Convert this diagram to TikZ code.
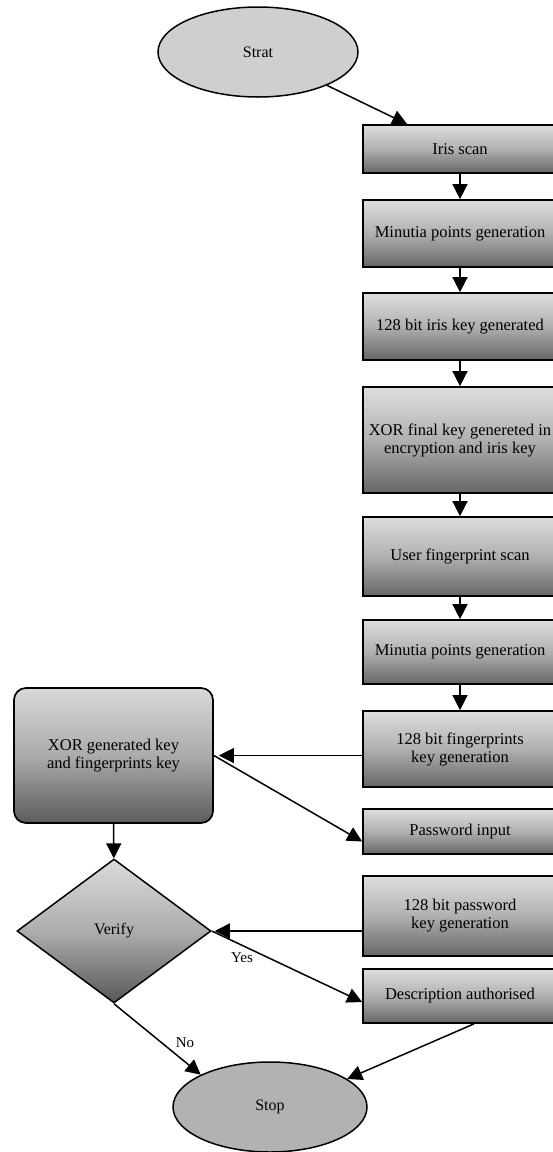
\documentclass[tikz,border=0pt]{standalone}
\usepackage{fontspec}
\setmainfont{Liberation Serif}
\usetikzlibrary{shapes.geometric,arrows.meta}
\begin{document}
\begin{tikzpicture}[x=1pt,y=-1pt,
  box/.style={draw=black, line width=1.7pt, rectangle, minimum width=194pt, inner sep=2pt,
    align=center, font=\fontsize{16.5}{18}\selectfont,
    top color=black!13, bottom color=black!60, middle color=black!31},
  oval/.style={draw=black, line width=1.5pt, ellipse, inner sep=0pt, font=\fontsize{16}{18}\selectfont},
  arr/.style={line width=1.5pt, -{Triangle[length=15pt,width=15pt]}},
  lbl/.style={font=\fontsize{15}{17}\selectfont, inner sep=0pt}
]
\useasboundingbox (0,0) rectangle (552,1152);

% terminals
\node[oval, fill=black!19, minimum width=200pt, minimum height=90pt] (strat) at (258,52) {Strat};
\node[oval, fill=black!30, minimum width=194pt, minimum height=90pt] (stop) at (270,1107) {Stop};

% right column
\node[box, minimum height=48pt] (iris) at (460,149) {Iris scan};
\node[box, minimum height=67pt] (min1) at (460,233.5) {Minutia points generation};
\node[box, minimum height=67pt] (irisKey) at (460,326.5) {128 bit iris key generated};
\node[box, minimum height=106pt] (xorFinal) at (460,440) {XOR final key genereted in\\encryption and iris key};
\node[box, minimum height=79pt] (userFp) at (460,556.5) {User fingerprint scan};
\node[box, minimum height=64pt] (min2) at (460,652) {Minutia points generation};
\node[box, minimum height=76pt] (fpKey) at (460,749) {128 bit fingerprints\\key generation};
\node[box, minimum height=45pt] (pwIn) at (460,831.5) {Password input};
\node[box, minimum height=80pt] (pwKey) at (460,916) {128 bit password\\key generation};
\node[box, minimum height=54pt] (desc) at (460,996) {Description authorised};

% left column
\node[box, rounded corners=12pt, minimum width=199pt, minimum height=135pt,
      top color=black!15, bottom color=black!64, middle color=black!33] (xorGen) at (113.5,755.5)
      {XOR generated key\\and fingerprints key};
\node[draw=black, line width=1.5pt, diamond, aspect=1.35, inner sep=0pt,
      minimum width=194pt, minimum height=144pt, font=\fontsize{16}{18}\selectfont,
      top color=black!14, bottom color=black!66, middle color=black!32] (verify) at (114,931) {Verify};

% connectors
\draw[arr] (strat) -- ([xshift=45pt]iris.north west);
\draw[arr] (iris) -- (min1);
\draw[arr] (min1) -- (irisKey);
\draw[arr] (irisKey) -- (xorFinal);
\draw[arr] (xorFinal) -- (userFp);
\draw[arr] (userFp) -- (min2);
\draw[arr] (min2) -- (fpKey);
\draw[arr, shorten >=5pt] (fpKey.west |- xorGen.east) -- (xorGen.east);
\draw[arr] (xorGen.east) -- ([yshift=-10pt]pwIn.west);
\draw[arr] (xorGen) -- (verify);
\draw[arr, shorten >=3pt] (pwKey.west |- verify.east) -- (verify.east);
\draw[arr] (verify.east) -- ([yshift=-6pt]desc.west);
\draw[arr] (verify.south) -- (stop.155);
\draw[arr] ([xshift=14pt]desc.south) -- (stop.20);

% labels
\node[lbl] (yes) at (242,958) {Yes};
\node[lbl] (no) at (185,1043) {No};
\end{tikzpicture}
\end{document}
